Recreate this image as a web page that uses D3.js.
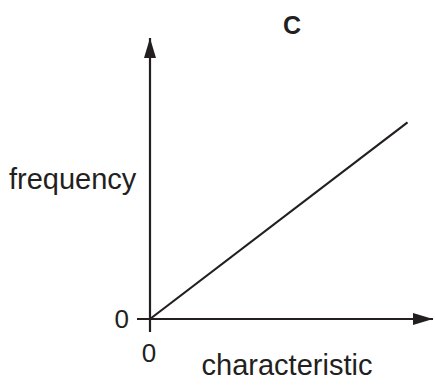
<!DOCTYPE html>
<html>
<head>
<meta charset="utf-8">
<script src="https://cdn.jsdelivr.net/npm/d3@7"></script>
<style>
  body { margin: 0; background: #fff; }
  svg text { font-family: "Liberation Sans", Arial, sans-serif; fill: #231f20; }
</style>
</head>
<body>
<div id="chart"></div>
<script>
// Chart data
const title = 'C';
const xLabel = 'characteristic';
const yLabel = 'frequency';
const xTicks = [0];
const yTicks = [0];
const lineX = [0, 0.91];
const lineY = [0, 0.70];

const width = 435, height = 385;
const ink = '#231f20';

const svg = d3.select('#chart')
    .append('svg')
    .attr('width', width)
    .attr('height', height);

// Scales (origin at 150,319)
const x = d3.scaleLinear().domain([0, 1]).range([150, 433]);
const y = d3.scaleLinear().domain([0, 1]).range([319, 38]);

// Arrow heads
const defs = svg.append('defs');
defs.append('marker')
    .attr('id', 'arrow')
    .attr('viewBox', '0 0 20 12')
    .attr('refX', 20)
    .attr('refY', 6)
    .attr('markerWidth', 20)
    .attr('markerHeight', 12)
    .attr('markerUnits', 'userSpaceOnUse')
    .attr('orient', 'auto')
    .append('path')
    .attr('d', 'M0,0 L20,6 L0,12 Z')
    .attr('fill', ink);

// X axis (extends slightly left of origin)
svg.append('line')
    .attr('x1', x(0) - 13).attr('x2', x(1))
    .attr('y1', y(0)).attr('y2', y(0))
    .attr('stroke', ink).attr('stroke-width', 2.2)
    .attr('marker-end', 'url(#arrow)');

// Y axis (extends slightly below origin)
svg.append('line')
    .attr('x1', x(0)).attr('x2', x(0))
    .attr('y1', y(0) + 13).attr('y2', y(1))
    .attr('stroke', ink).attr('stroke-width', 2.2)
    .attr('marker-end', 'url(#arrow)');

// Line
const line = d3.line()
    .x(d => x(d[0]))
    .y(d => y(d[1]));

svg.append('path')
    .datum(lineX.map((v, i) => [v, lineY[i]]))
    .attr('d', line)
    .attr('fill', 'none')
    .attr('stroke', ink)
    .attr('stroke-width', 2.2);

// Tick labels
svg.selectAll('.xtick')
    .data(xTicks)
    .enter()
    .append('text')
    .attr('x', d => x(d) - 1)
    .attr('y', 362)
    .attr('text-anchor', 'middle')
    .style('font-size', '26px')
    .text(d => d);

svg.selectAll('.ytick')
    .data(yTicks)
    .enter()
    .append('text')
    .attr('x', 129)
    .attr('y', d => y(d) + 9)
    .attr('text-anchor', 'end')
    .style('font-size', '26px')
    .text(d => d);

// Axis labels and title
svg.append('text')
    .attr('x', 9)
    .attr('y', 189)
    .style('font-size', '29px')
    .text(yLabel);

svg.append('text')
    .attr('x', 287)
    .attr('y', 375)
    .attr('text-anchor', 'middle')
    .style('font-size', '29px')
    .text(xLabel);

svg.append('text')
    .attr('x', 292)
    .attr('y', 34)
    .attr('text-anchor', 'middle')
    .style('font-size', '25px')
    .style('font-weight', 'bold')
    .text(title);
</script>
</body>
</html>
